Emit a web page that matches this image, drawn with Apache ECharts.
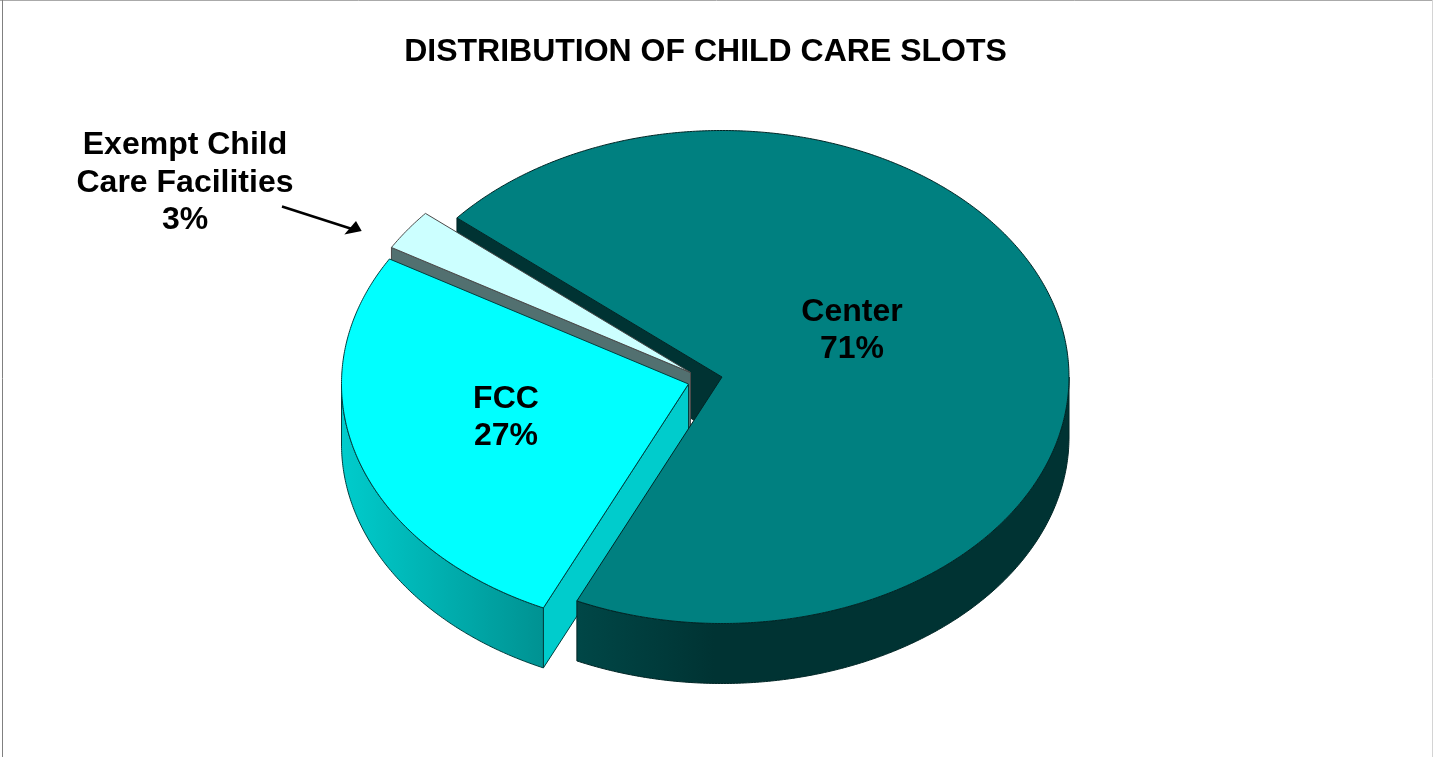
<!DOCTYPE html>
<html>
<head>
<meta charset="utf-8">
<style>html,body{margin:0;padding:0;background:#fff}#c{width:1433px;height:757px}</style>
<script src="https://cdn.jsdelivr.net/npm/echarts@6/dist/echarts.min.js"></script>
</head>
<body>
<div id="c"></div>
<script>
var chartTitle = 'DISTRIBUTION OF CHILD CARE SLOTS';
var categories = ['Center', 'FCC', 'Exempt Child\nCare Facilities'];
var shares = [70.7, 26.6, 2.7];

// Presentation of the tilted pie, kept apart from the data.
var START_DEG = 310.2, RX = 347, RY = 246.5, DEPTH = 60;
var sliceStyle = [
  { apex: [722, 377], top: '#008080', wall: '#003333', line: '#002626', rim: [[0, '#004747'], [0.28, '#003333'], [1, '#003333']], order: 3, edgeOrder: 0, label: [852, 330.5] },
  { apex: [688.5, 384], top: '#00FFFF', wall: '#00CCCC', line: '#003f3f', rim: [[0, '#00CCCC'], [1, '#009292']], order: 2, edgeOrder: 2, label: [506, 417.5] },
  { apex: [690.5, 372.5], top: '#CCFFFF', wall: '#527070', line: '#4a4a4a', rim: [[0, '#527070'], [1, '#527070']], order: 1, edgeOrder: 1, label: [185, 183] }
];

var total = shares.reduce(function (a, b) { return a + b; }, 0);

function pt(apex, deg, dy) {
  var r = deg * Math.PI / 180;
  return [apex[0] + RX * Math.sin(r), apex[1] - RY * Math.cos(r) + (dy || 0)];
}
function arc(apex, from, to, dy) {
  var out = [], n = Math.max(2, Math.ceil(Math.abs(to - from) * 2));
  for (var i = 0; i <= n; i++) out.push(pt(apex, from + (to - from) * i / n, dy));
  return out;
}

function renderItem(params, api) {
  var i = params.dataIndex, s = sliceStyle[i];
  var before = 0;
  for (var k = 0; k < i; k++) before += shares[k];
  var a0 = START_DEG + before / total * 360;
  var a1 = a0 + api.value(0) / total * 360;
  var kids = [];
  var stroke = { stroke: s.line, lineWidth: 1, lineJoin: 'round' };

  // wall along the leading radial edge
  var p0 = pt(s.apex, a0);
  kids.push({ type: 'polygon', z2: s.edgeOrder, silent: true,
    shape: { points: [s.apex, p0, [p0[0], p0[1] + DEPTH], [s.apex[0], s.apex[1] + DEPTH]] },
    style: Object.assign({ fill: s.wall }, stroke) });

  // curved outer wall: only the part facing the viewer (90..270 deg)
  var lo, hi;
  if (a0 >= 360) { lo = Math.max(a0 - 360, 90); hi = Math.min(a1 - 360, 270); }
  else if (a1 > 360) { lo = 90; hi = Math.min(a1 - 360, 270); }
  else { lo = Math.max(a0, 90); hi = Math.min(a1, 270); }
  if (hi > lo) {
    var up = arc(s.apex, lo, hi, 0), down = arc(s.apex, hi, lo, DEPTH);
    var stops = s.rim.map(function (st) { return { offset: st[0], color: st[1] }; });
    kids.push({ type: 'polygon', z2: s.order, silent: true,
      shape: { points: up.concat(down) },
      style: Object.assign({ fill: new echarts.graphic.LinearGradient(0, 0, 1, 0, stops) }, stroke) });
  }

  // top face
  kids.push({ type: 'polygon', z2: s.order + 0.5, silent: true,
    shape: { points: [s.apex].concat(arc(s.apex, a0, a1, 0)) },
    style: Object.assign({ fill: s.top }, stroke) });

  // label
  kids.push({ type: 'text', z2: 10, silent: true,
    x: s.label[0], y: s.label[1],
    style: { text: api.value(1) + '\n' + Math.round(api.value(0)) + '%',
      fill: '#000', font: 'bold 32px "Liberation Sans", Arial, sans-serif',
      lineHeight: 37.5, align: 'center', verticalAlign: 'middle' } });

  return { type: 'group', children: kids };
}

var chart = echarts.init(document.getElementById('c'), null, { renderer: 'canvas' });
chart.setOption({
  animation: false,
  backgroundColor: '#ffffff',
  title: {
    text: chartTitle, left: 705.5, top: 36, padding: 0, textAlign: 'center',
    textStyle: { color: '#000', fontFamily: '"Liberation Sans", Arial, sans-serif', fontWeight: 'bold', fontSize: 32 }
  },
  tooltip: { show: false },
  series: [{
    type: 'custom',
    coordinateSystem: 'none',
    renderItem: renderItem,
    dimensions: ['share', 'name'],
    encode: { value: 0 },
    silent: true,
    data: categories.map(function (c, i) { return [shares[i], c]; })
  }],
  graphic: [
    { type: 'line', silent: true, shape: { x1: 0, y1: 0.5, x2: 1433, y2: 0.5 }, style: { stroke: '#aaaaaa', lineWidth: 1 } },
    { type: 'line', silent: true, shape: { x1: 2.5, y1: 0, x2: 2.5, y2: 757 }, style: { stroke: '#808080', lineWidth: 1 } },
    { type: 'line', silent: true, shape: { x1: 1432.5, y1: 0, x2: 1432.5, y2: 757 }, style: { stroke: '#d4d4d4', lineWidth: 1 } },
    { type: 'line', silent: true, shape: { x1: 282, y1: 206.5, x2: 352, y2: 229 }, style: { stroke: '#000', lineWidth: 2.4 } },
    { type: 'polygon', silent: true, shape: { points: [[361.7, 231], [356, 221], [344.3, 234.5]] }, style: { fill: '#000' } }
  ]
});
</script>
</body>
</html>
